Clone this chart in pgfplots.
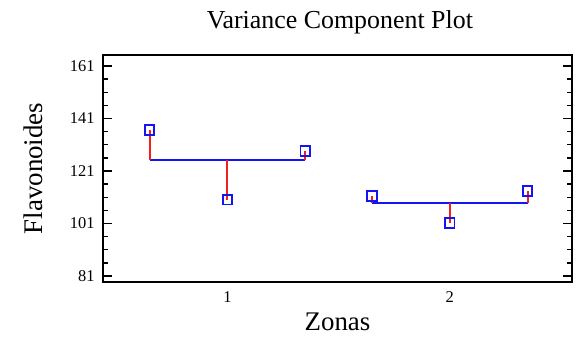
\documentclass[border=0pt]{standalone}
\usepackage{fontspec}
\setmainfont{Liberation Serif}
\usepackage{pgfplots}
\pgfplotsset{compat=1.18}
\definecolor{devred}{RGB}{245,30,30}
\definecolor{obsblue}{RGB}{20,20,245}
\begin{document}
\begin{tikzpicture}
\begin{axis}[
  at={(0,0)}, anchor=south west,
  scale only axis, width=469bp, height=227bp,
  xmin=0.44, xmax=2.55, ymin=78.7, ymax=165.2,
  xtick={1,2}, ytick={81,101,121,141,161},
  minor y tick num=3,
  ytick pos=both, xtick pos=bottom,
  tick align=inside,
  major tick length=9bp, minor tick length=5bp,
  x tick style={draw=none},
  tick style={black, line width=1.4bp},
  axis line style={black, line width=1.8bp},
  /pgf/number format/assume math mode=true,
  ticklabel style={font=\fontsize{16.5}{18}\selectfont},
  yticklabel style={xshift=-5bp},
  xticklabel style={yshift=-6bp},
  title={Variance Component Plot},
  title style={font=\fontsize{26}{28}\selectfont, at={(axis description cs:0.505,1.09)}, anchor=base},
  xlabel={Zonas},
  xlabel style={font=\fontsize{27}{29}\selectfont, at={(axis description cs:0.5,-0.212)}, anchor=base},
  ylabel={Flavonoides},
  ylabel style={font=\fontsize{27}{29}\selectfont, at={(axis description cs:-0.13,0.5)}, anchor=base},
  clip=false,
]
% group means
\addplot[obsblue, line width=2bp] coordinates {(0.65,125.07) (1.35,125.07)};
\addplot[obsblue, line width=2bp] coordinates {(1.65,108.7) (2.35,108.7)};
% observations
\addplot[only marks, mark=square, mark size=4.7bp, obsblue, mark options={line width=1.8bp}] coordinates {
(0.65,136.6) (1,110.0) (1.35,128.6)
(1.65,111.5) (2,101.2) (2.35,113.4)};
% deviations
\addplot[devred, line width=2bp] coordinates {(0.65,136.6) (0.65,125.07)};
\addplot[devred, line width=2bp] coordinates {(1,110.0) (1,125.07)};
\addplot[devred, line width=2bp] coordinates {(1.35,128.6) (1.35,125.07)};
\addplot[devred, line width=2bp] coordinates {(1.65,111.5) (1.65,108.7)};
\addplot[devred, line width=2bp] coordinates {(2,101.2) (2,108.7)};
\addplot[devred, line width=2bp] coordinates {(2.35,113.4) (2.35,108.7)};
\end{axis}
\pgfresetboundingbox
\useasboundingbox (-103bp,-55bp) rectangle (473bp,282bp);
\end{tikzpicture}
\end{document}
